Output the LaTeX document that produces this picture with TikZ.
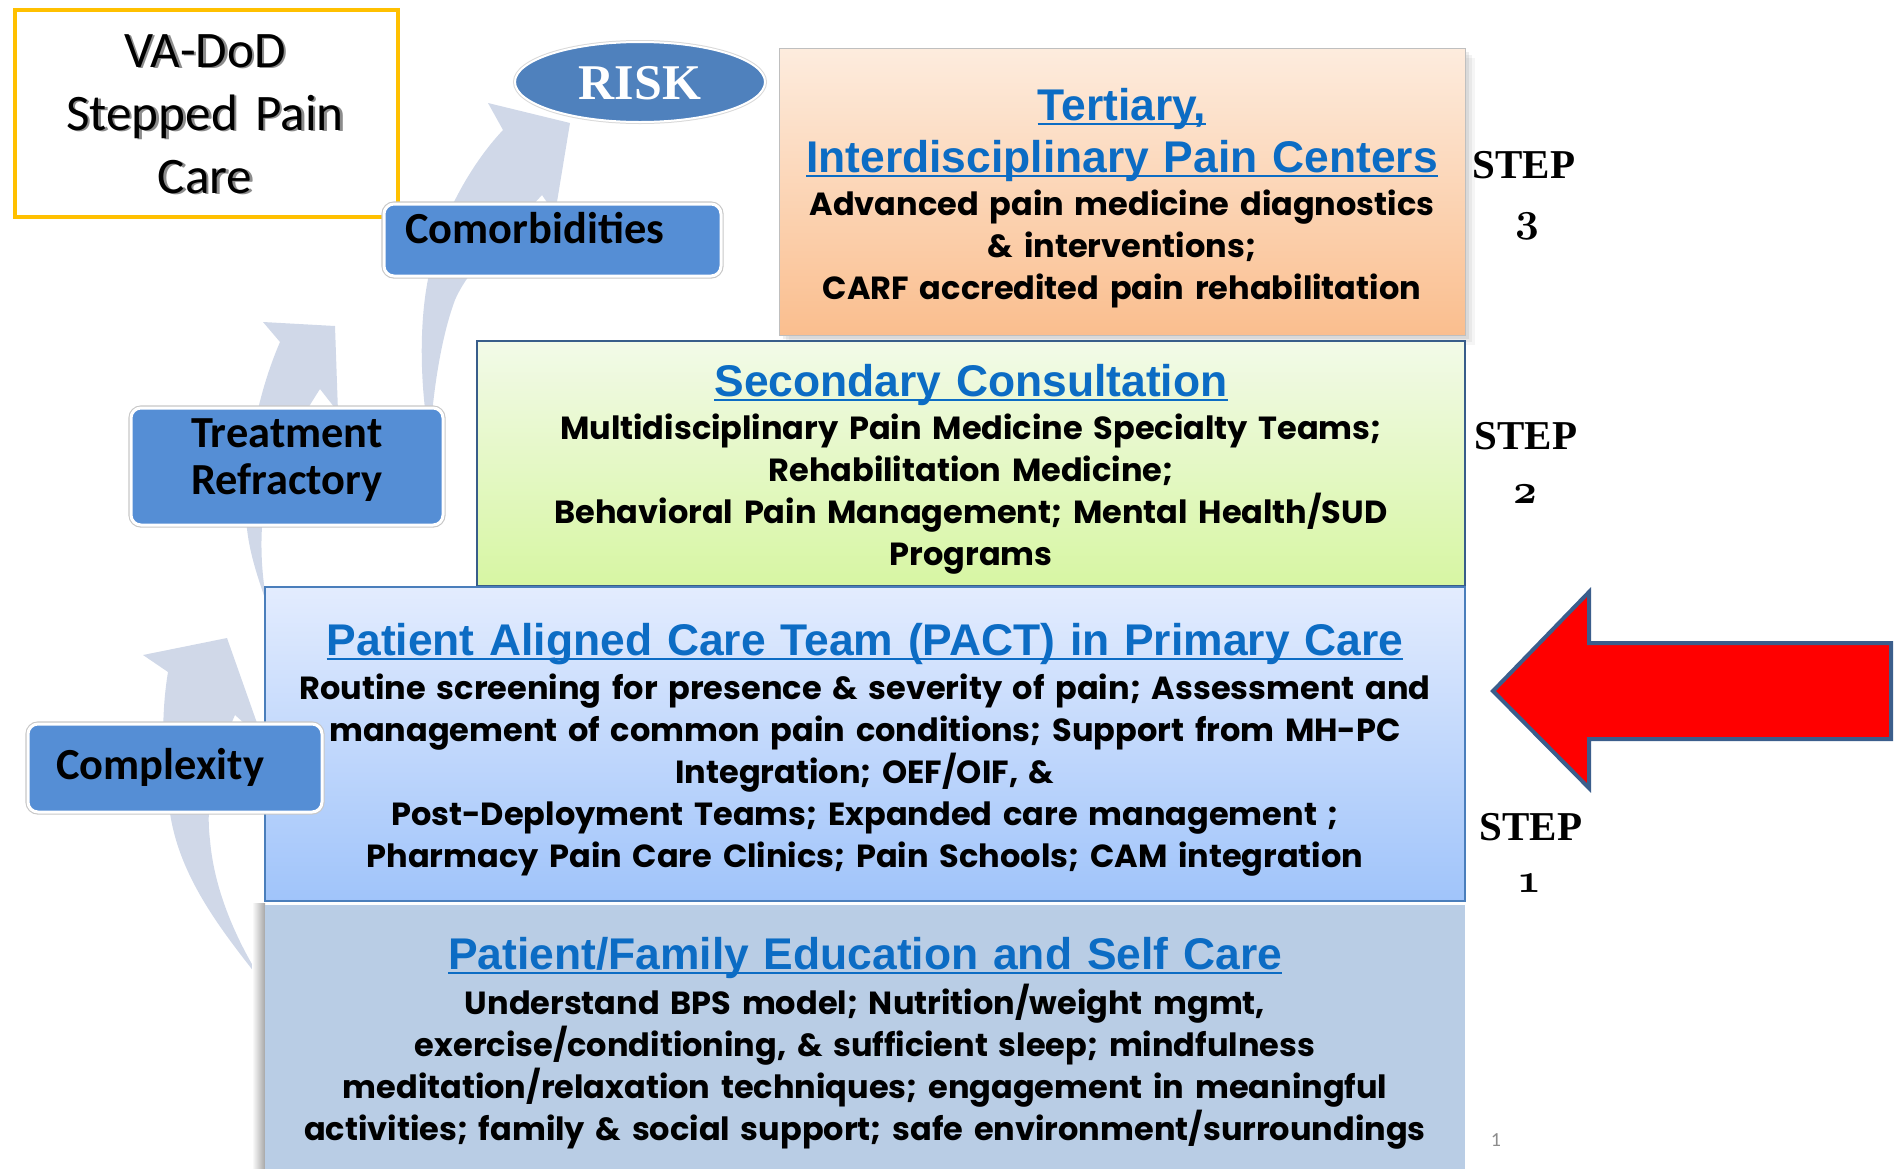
\documentclass[tikz,border=0pt]{standalone}
\usepackage{fontspec}
\newfontfamily\calibf{Carlito}
\newfontfamily\arialf{Liberation Sans}
\newfontfamily\timesf{Liberation Serif}
\newfontfamily\bodyf{Poppins}
\usetikzlibrary{shapes.geometric,shadings}
\definecolor{arrowc}{RGB}{208,216,232}
\definecolor{gold}{RGB}{255,192,0}
\definecolor{lblue}{RGB}{85,142,213}
\definecolor{riskblue}{RGB}{79,129,189}
\definecolor{titleblue}{RGB}{12,108,196}
\definecolor{terttop}{RGB}{253,236,222}
\definecolor{tertbot}{RGB}{250,190,142}
\definecolor{sectop}{RGB}{242,250,232}
\definecolor{secbot}{RGB}{215,246,163}
\definecolor{pacttop}{RGB}{227,236,254}
\definecolor{pactbot}{RGB}{160,196,250}
\definecolor{basec}{RGB}{185,205,229}
\definecolor{navy}{RGB}{56,93,138}
\definecolor{pactborder}{RGB}{74,126,187}
\definecolor{arrowborder}{RGB}{59,94,140}
\newcommand\ulbox[1]{\leavevmode\setbox0\hbox{#1}\rlap{\color{titleblue}\rule[-2.6pt]{\wd0}{1.1pt}}\box0}
\tikzset{
  titletext/.style={font=\arialf\bfseries\fontsize{22.2}{26}\selectfont, text=titleblue, align=center, text width=620pt, anchor=base, inner sep=0pt},
  bodytext/.style={font=\bodyf\bfseries\fontsize{16}{21}\selectfont, align=center, text width=620pt, anchor=base, inner sep=0pt},
  labelbox/.style={draw=white, line width=1.5pt, fill=lblue, rounded corners=5pt, inner sep=0pt, preaction={draw=black!22, line width=2.6pt}},
  labeltext/.style={font=\calibf\bfseries\fontsize{22.2}{23.5}\selectfont, inner sep=0pt},
  steptext/.style={font=\timesf\bfseries\fontsize{20.5}{24}\selectfont, anchor=base, inner sep=0pt},
  stepnum/.style={font=\usefont{OML}{cmm}{b}{it}\fontsize{21}{24}\selectfont, anchor=base, inner sep=0pt},
  flowarrow/.style={fill=arrowc},
  vatext/.style={font=\calibf\fontsize{25.6}{31.5}\selectfont, align=center, text width=200pt, anchor=base, inner sep=0pt},
}
\begin{document}
\begin{tikzpicture}[x=0.5pt,y=-0.5pt]
\useasboundingbox (0,0) rectangle (1894,1168);
\clip (0,0) rectangle (1894,1168);

% curved flow arrows
\fill[flowarrow] (266,987) .. controls (225,935) and (180,880) .. (170,813) .. controls (163,770) and (160,720) .. (168,672) -- (143,655) -- (227,638) -- (263,740) -- (235,715) .. controls (215,760) and (205,800) .. (210,840) .. controls (215,900) and (245,955) .. (266,987) -- cycle;
\fill[flowarrow] (268,607) .. controls (255,570) and (245,540) .. (246,505) .. controls (247,460) and (255,400) .. (280,342) -- (263,322) -- (335,326) -- (338,412) -- (320,389) .. controls (300,420) and (270,470) .. (262,527) .. controls (260,560) and (264,590) .. (268,607) -- cycle;
\fill[flowarrow] (430,442) .. controls (420,390) and (418,320) .. (430,270) .. controls (440,220) and (470,165) .. (503,130) -- (488,103) -- (570,123) -- (555,214) -- (542,195) .. controls (510,230) and (470,265) .. (455,300) .. controls (440,340) and (432,400) .. (430,442) -- cycle;

% shadows
\foreach \s/\o in {10/0.04,7/0.05,4/0.07}
  \fill[black,opacity=\o] ({779+\s},{48+\s}) rectangle ({1465+\s},{335+\s});
\shade[left color=white, right color=black!35] (252,903) rectangle (265,1168);

% step boxes
\node[draw=black!25, line width=0.4pt, top color=terttop, bottom color=tertbot, minimum width=343pt, minimum height=143.5pt, inner sep=0pt] (tert) at (1122,191.5) {};
\node[draw=navy, line width=1pt, top color=sectop, bottom color=secbot, minimum width=494pt, minimum height=122.5pt, inner sep=0pt] (sec) at (971,463.5) {};
\node[draw=pactborder, line width=1pt, top color=pacttop, bottom color=pactbot, minimum width=600pt, minimum height=157pt, inner sep=0pt] (pact) at (865,744) {};
\node[fill=basec, minimum width=600pt, minimum height=140pt, inner sep=0pt] (base) at (865,1045) {};

% texts in step boxes
\node[titletext] (terttitle) at (1122,120) {\ulbox{Tertiary,}\\\ulbox{Interdisciplinary Pain Centers}};
\node[bodytext] (tertbody) at (1122,215) {Advanced pain medicine diagnostics\\ \& interventions;\\ CARF accredited pain rehabilitation};
\node[titletext] (sectitle) at (971,396) {\ulbox{Secondary Consultation}};
\node[bodytext] (secbody) at (971,439) {Multidisciplinary Pain Medicine Specialty Teams;\\ Rehabilitation Medicine;\\ Behavioral Pain Management; Mental Health/SUD\\ Programs};
\node[titletext] (pacttitle) at (865,655) {\ulbox{Patient Aligned Care Team (PACT) in Primary Care}};
\node[bodytext] (pactbody) at (865,699) {Routine screening for presence \& severity of pain; Assessment and\\ management of common pain conditions; Support from MH-PC\\ Integration; OEF/OIF, \&\\ Post-Deployment Teams; Expanded care management ;\\ Pharmacy Pain Care Clinics; Pain Schools; CAM integration};
\node[titletext] (basetitle) at (865,969) {\ulbox{Patient/Family Education and Self Care}};
\node[bodytext] (basebody) at (865,1014) {Understand BPS model; Nutrition/weight mgmt,\\ exercise/conditioning, \& sufficient sleep; mindfulness\\ meditation/relaxation techniques; engagement in meaningful\\ activities; family \& social support; safe environment/surroundings};

% title box
\node[draw=gold, line width=2.2pt, fill=white, minimum width=191.5pt, minimum height=103.5pt, inner sep=0pt] (vabox) at (206.5,113.5) {};
\node[vatext, text=black!45] (vashadow) at (207.5,68.5) {VA-DoD\\ Stepped Pain\\ Care};
\node[vatext] (vatitle) at (205,67) {VA-DoD\\ Stepped Pain\\ Care};

% label boxes
\node[labelbox, minimum width=168.5pt, minimum height=36pt] (como) at (552.5,240) {};
\node[labeltext, anchor=base west] (comotext) at (405,243) {Comorbidities};
\node[labelbox, minimum width=156pt, minimum height=58.5pt] (treat) at (287,466.5) {};
\node[labeltext, align=center, text width=150pt, anchor=base] (treattext) at (287,447) {Treatment\\ Refractory};
\node[labelbox, minimum width=147pt, minimum height=44pt] (compl) at (175,768) {};
\node[labeltext, anchor=base west] (compltext) at (56,779) {Complexity};

% risk
\node[ellipse, fill=riskblue, draw=white, line width=1pt, preaction={draw=black!15, line width=2pt}, minimum width=125pt, minimum height=40pt, inner sep=0pt] (risk) at (640,82) {};
\node[font=\timesf\bfseries\fontsize{25}{28}\selectfont, text=white, anchor=base, inner sep=0pt] (risktext) at (640,99) {RISK};

% step labels
\node[steptext] (step3) at (1524,178) {STEP};
\node[stepnum] (num3) at (1527,231) {3};
\node[steptext] (step2) at (1526,449) {STEP};
\node[stepnum] (num2) at (1525,503) {2};
\node[steptext] (step1) at (1531,840) {STEP};
\node[stepnum] (num1) at (1529,892) {1};

% red arrow
\draw[fill=red, draw=arrowborder, line width=2pt, line join=miter] (1493,691) -- (1589,592) -- (1589,643) -- (1891,643) -- (1891,739) -- (1589,739) -- (1589,788) -- cycle;

\node[font=\calibf\fontsize{10}{12}\selectfont, text=black!45, inner sep=0pt] (pnum) at (1496,1140) {1};
\end{tikzpicture}
\end{document}
